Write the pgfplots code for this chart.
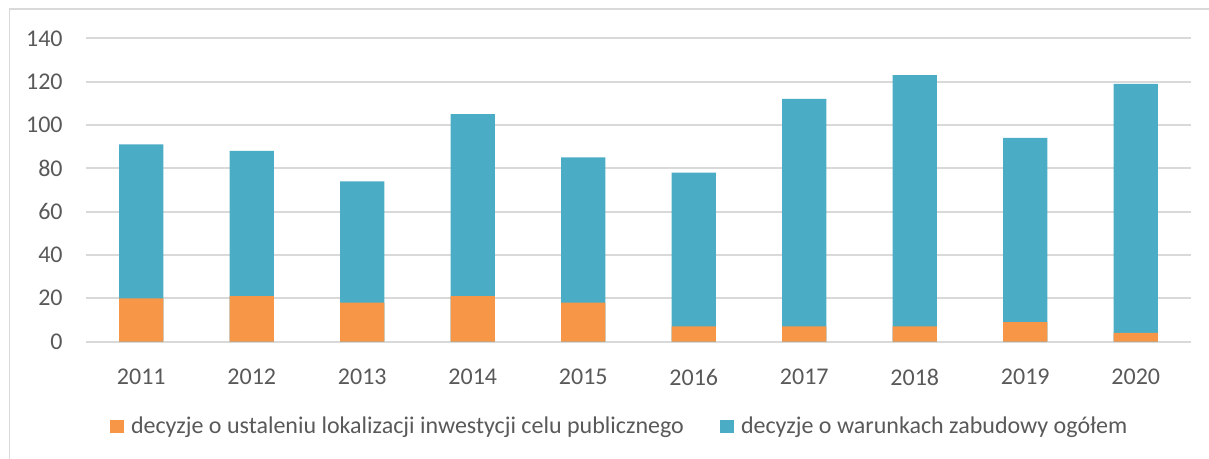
\documentclass[border=0pt]{standalone}
\usepackage{pgfplots}
\pgfplotsset{compat=1.18}
\usepackage{fontspec}
\setmainfont{Carlito}
\definecolor{orangeC}{HTML}{F79646}
\definecolor{blueC}{HTML}{4BACC6}
\definecolor{gridC}{HTML}{D9D9D9}
\definecolor{textC}{HTML}{595959}
\begin{document}
\begin{tikzpicture}
\useasboundingbox (0,0) rectangle (604.5bp,-229.5bp);
\draw[gridC, line width=0.9bp] (4.75bp,-229.5bp) -- (4.75bp,-4.5bp) -- (604.5bp,-4.5bp);
\begin{axis}[
  at={(43bp,-170.8bp)}, anchor=south west,
  scale only axis, width=552.5bp, height=151.65bp,
  xmin=-0.5, xmax=9.5, ymin=0, ymax=140,
  ytick={0,20,...,140},
  xtick={0,...,9},
  xticklabels={2011,2012,2013,2014,2015,2016,2017,2018,2019,2020},
  ymajorgrids, grid style={draw=gridC, line width=0.9bp},
  axis line style={draw=none},
  major tick style={draw=none},
  /pgf/number format/assume math mode=true,
  every tick label/.append style={font=\fontsize{12bp}{14bp}\selectfont, text=textC, inner sep=0pt},
  yticklabel style={anchor=east, xshift=-11.5bp},
  xticklabel style={anchor=north, yshift=-9.3bp},
  ybar, bar width=22.15bp, bar shift=0pt,
  legend columns=2,
  legend style={at={(rel axis cs:0,0)}, anchor=west, xshift=12bp, yshift=-42.45bp,
    draw=none, fill=none, inner sep=0pt, outer sep=0pt,
    font=\fontsize{12bp}{14bp}\selectfont, text=textC,
    nodes={inner sep=0pt, anchor=base west},
    /tikz/every odd column/.append style={column sep=3.5bp},
    /tikz/every even column/.append style={column sep=18bp}},
  legend image code/.code={\fill[#1] (0bp,0.1bp) rectangle (7bp,6.5bp);},
]
\addplot[fill=blueC, draw=none, forget plot] coordinates {(0,91) (1,88) (2,74) (3,105) (4,85) (5,78) (6,112) (7,123) (8,94) (9,119)};
\addplot[fill=orangeC, draw=none] coordinates {(0,20) (1,21) (2,18) (3,21) (4,18) (5,7) (6,7) (7,7) (8,9) (9,4)};
\addlegendentry{decyzje o ustaleniu lokalizacji inwestycji celu publicznego}
\addlegendimage{fill=blueC, draw=none}
\addlegendentry{decyzje o warunkach zabudowy ogółem}
\end{axis}
\end{tikzpicture}
\end{document}
